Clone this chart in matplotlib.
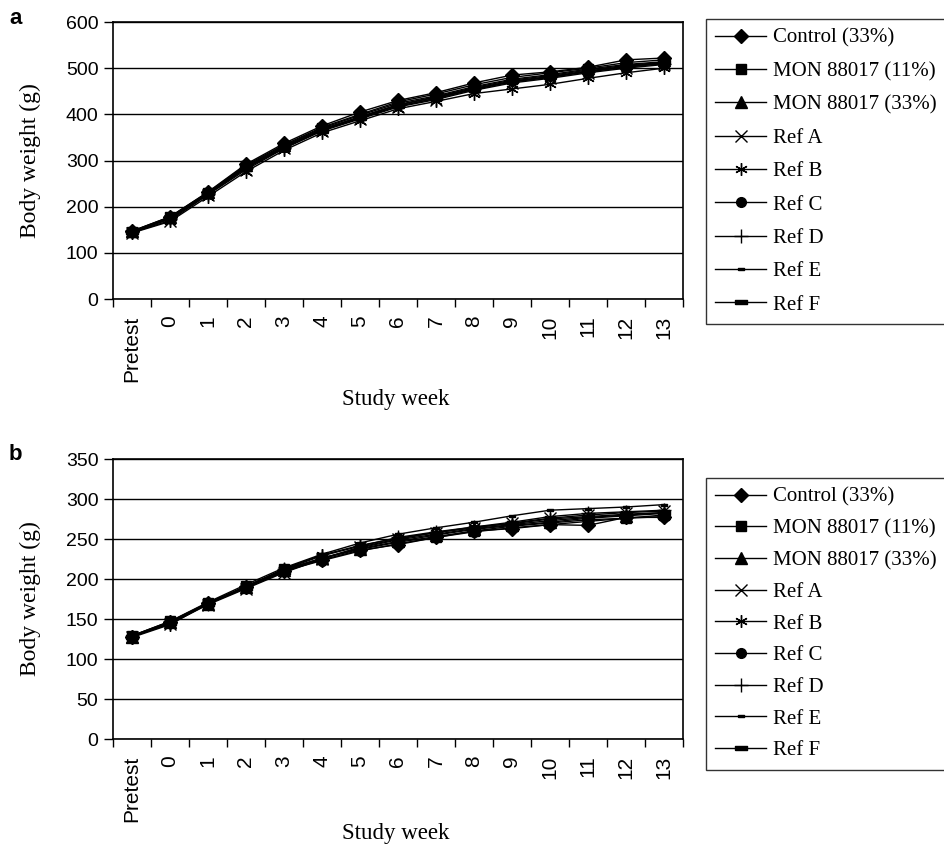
import matplotlib.pyplot as plt
from matplotlib.path import Path

weeks = ["Pretest", "0", "1", "2", "3", "4", "5", "6", "7", "8", "9", "10", "11", "12", "13"]
groups = ["Control (33%)", "MON 88017 (11%)", "MON 88017 (33%)", "Ref A", "Ref B",
          "Ref C", "Ref D", "Ref E", "Ref F"]

# panel a - odczyt z wykresu
a_control = [147, 178, 232, 292, 337, 375, 405, 430, 447, 468, 485, 492, 502, 518, 522]
a_mon11 = [146, 177, 230, 288, 332, 370, 398, 424, 440, 460, 476, 486, 498, 508, 514]
a_mon33 = [147, 178, 231, 290, 334, 372, 400, 427, 444, 464, 480, 490, 500, 512, 518]
a_refA = [144, 170, 226, 280, 326, 364, 390, 416, 432, 452, 468, 478, 490, 500, 508]
a_refB = [143, 168, 222, 276, 322, 360, 386, 412, 428, 445, 455, 465, 478, 490, 500]
a_refC = [146, 176, 229, 286, 330, 368, 394, 420, 437, 456, 472, 482, 494, 504, 512]
a_refD = [145, 174, 228, 284, 328, 366, 392, 418, 434, 454, 470, 480, 492, 502, 510]
a_refE = [145, 173, 227, 283, 327, 365, 392, 417, 435, 455, 471, 481, 493, 503, 511]
a_refF = [146, 175, 229, 285, 329, 367, 395, 421, 438, 458, 474, 484, 496, 506, 513]

# panel b
b_control = [128, 146, 170, 190, 210, 224, 236, 243, 252, 260, 263, 268, 267, 277, 277]
b_mon11 = [129, 147, 170, 191, 212, 226, 237, 246, 253, 260, 266, 270, 274, 276, 280]
b_mon33 = [128, 146, 169, 190, 211, 226, 238, 247, 255, 262, 267, 271, 276, 279, 282]
b_refA = [128, 144, 168, 188, 208, 225, 240, 250, 258, 264, 270, 276, 280, 283, 285]
b_refB = [127, 143, 169, 189, 213, 230, 242, 251, 258, 265, 269, 275, 278, 281, 283]
b_refC = [129, 146, 170, 190, 210, 223, 235, 244, 252, 259, 264, 268, 272, 276, 278]
b_refD = [128, 145, 169, 191, 212, 229, 241, 252, 259, 265, 271, 278, 282, 284, 286]
b_refE = [129, 147, 171, 193, 214, 231, 245, 256, 264, 271, 279, 286, 288, 290, 293]
b_refF = [128, 145, 169, 189, 209, 226, 239, 249, 256, 263, 268, 273, 277, 280, 283]

data_a = [a_control, a_mon11, a_mon33, a_refA, a_refB, a_refC, a_refD, a_refE, a_refF]
data_b = [b_control, b_mon11, b_mon33, b_refA, b_refB, b_refC, b_refD, b_refE, b_refF]

# markery w stylu Excela
dash = Path([(-1, -0.35), (1, -0.35), (1, 0.35), (-1, 0.35), (-1, -0.35)])
styles = [
    dict(marker="D", ms=7),
    dict(marker="s", ms=7),
    dict(marker="^", ms=8),
    dict(marker="x", ms=8, mew=1.0),
    dict(marker=(6, 2, 0), ms=9, mew=1.0),
    dict(marker="o", ms=7),
    dict(marker="+", ms=10, mew=1.0),
    dict(marker=dash, ms=5),
    dict(marker=dash, ms=8),
]

serif = "Liberation Serif"
sans = "Liberation Sans"

W, H = 944, 849
fig = plt.figure(figsize=(W / 100, H / 100), dpi=100)


def panel(top, bottom, data, ymax, ystep, letter, leg_top, lspace, xlab_y):
    ax = fig.add_axes([113 / W, 1 - bottom / H, 570 / W, (bottom - top) / H])
    x = list(range(len(weeks)))
    lines = []
    for vals, st, name in zip(data, styles, groups):
        ln, = ax.plot(x, vals, color="black", lw=1.0, mfc="black", mec="black",
                      label=name, **st)
        lines.append(ln)
    ax.set_xlim(-0.5, len(weeks) - 0.5)
    ax.set_ylim(0, ymax)
    ax.set_yticks(range(0, ymax + 1, ystep))
    ax.yaxis.grid(True, color="black", lw=1.0)
    ax.set_axisbelow(True)
    ax.set_xticks([i - 0.5 for i in range(len(weeks) + 1)])
    ax.set_xticklabels([])
    ax.set_xticks(x, minor=True)
    ax.set_xticklabels(weeks, minor=True, rotation=90, fontfamily=sans, fontsize=15)
    ax.tick_params(axis="x", which="major", direction="out", length=6, width=1)
    ax.tick_params(axis="x", which="minor", length=0, pad=12)
    ax.tick_params(axis="y", direction="out", length=6.5, width=1, pad=4)
    for lb in ax.get_yticklabels():
        lb.set_fontfamily(sans)
        lb.set_fontsize(14)
    for sp in ax.spines.values():
        sp.set_color("black")
        sp.set_linewidth(1.2)
    ax.set_ylabel("Body weight (g)", fontfamily=serif, fontsize=17, labelpad=18)
    fig.text(396 / W, 1 - xlab_y / H, "Study week", fontfamily=serif,
             fontsize=16.5, ha="center", va="center")
    fig.text(9 / W, 1 - (top - 4) / H, letter, fontfamily=sans, fontweight="bold",
             fontsize=16, ha="left", va="center")
    leg = fig.legend(handles=lines, loc="upper left",
                     bbox_to_anchor=(706 / W, 0, 242 / W, 1 - leg_top / H),
                     mode="expand", borderaxespad=0, frameon=True, fancybox=False,
                     edgecolor="black", prop={"family": serif, "size": 15},
                     handlelength=2.45, handletextpad=0.3, labelspacing=lspace,
                     borderpad=0.45)
    leg.get_frame().set_linewidth(1.0)
    return ax


panel(22, 299, data_a, 600, 100, "a", 19, 0.66, 400)
panel(459, 739, data_b, 350, 50, "b", 478, 0.58, 834)

fig.savefig("out.png", dpi=100)
